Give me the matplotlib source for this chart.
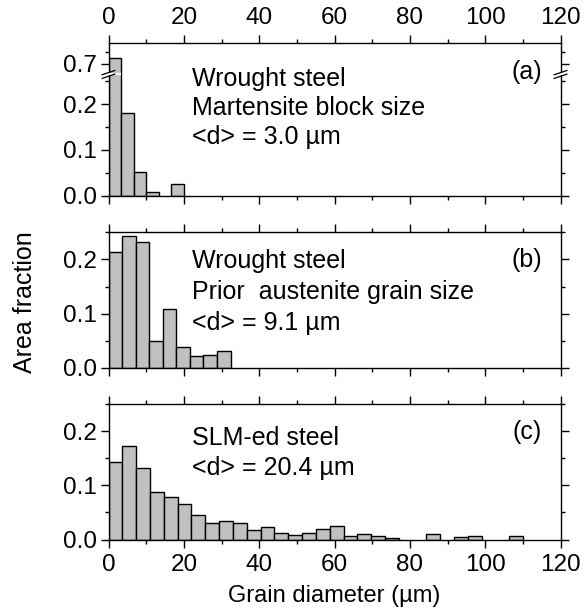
import numpy as np
import matplotlib
matplotlib.use("Agg")
import matplotlib.pyplot as plt
from matplotlib.ticker import FixedLocator, MultipleLocator

plt.rcParams['font.family'] = ['Liberation Sans', 'DejaVu Sans']
FS = 18
FS_TICK = 17.5

# ---------------- data ----------------
bin_a = 10 / 3
frac_a = [0.723, 0.180, 0.052, 0.0087, 0.0, 0.025]
bin_b = 3.6
frac_b = [0.2135, 0.243, 0.2325, 0.049, 0.109, 0.0387, 0.0227, 0.0245, 0.032]
bin_c = 3.67
frac_c = [0.143, 0.172, 0.132, 0.087, 0.078, 0.066, 0.045, 0.031, 0.035, 0.030,
          0.017, 0.023, 0.012, 0.0086, 0.013, 0.019, 0.025, 0.0067, 0.0098, 0.0074,
          0.0037, 0.0, 0.0, 0.011, 0.0, 0.0055, 0.006, 0.0, 0.0, 0.0074]

texts_a = ["Wrought steel", "Martensite block size", "<d> = 3.0 µm"]
texts_b = ["Wrought steel", "Prior  austenite grain size", "<d> = 9.1 µm"]
texts_c = ["SLM-ed steel", "<d> = 20.4 µm"]
x_ticks = [0, 20, 40, 60, 80, 100, 120]
xlabel = "Grain diameter (µm)"
ylabel = "Area fraction"

# ---------------- figure ----------------
W, H = 586, 611
fig = plt.figure(figsize=(W / 100, H / 100), dpi=100)

x0, x1 = 108.5, 560.5
def axrect(top, bottom):
    return [x0 / W, 1 - bottom / H, (x1 - x0) / W, (bottom - top) / H]

ax_a = fig.add_axes(axrect(43.3, 195.7))
ax_b = fig.add_axes(axrect(232.3, 368.0))
ax_c = fig.add_axes(axrect(404.0, 539.6))

# broken scale for panel (a)
B0, Y1, K = 0.265, 0.657, 0.536
def fwd(y):
    y = np.asarray(y, dtype=float)
    return np.where(y <= B0, y, np.where(y >= Y1, B0 + (y - Y1) * K, B0))
def inv(t):
    t = np.asarray(t, dtype=float)
    return np.where(t <= B0, t, Y1 + (t - B0) / K)
ax_a.set_yscale('function', functions=(fwd, inv))

def draw_bars(ax, w, vals):
    vals = np.asarray(vals)
    edges = np.arange(len(vals)) * w
    m = vals > 0
    ax.bar(edges[m], vals[m], width=w, align='edge', color='#c0c0c0',
           edgecolor='black', linewidth=1.0, zorder=2)

draw_bars(ax_a, bin_a, frac_a)
draw_bars(ax_b, bin_b, frac_b)
draw_bars(ax_c, bin_c, frac_c)

for ax in (ax_a, ax_b, ax_c):
    ax.set_xlim(0, 120)
    ax.xaxis.set_major_locator(FixedLocator(x_ticks))
    ax.xaxis.set_minor_locator(MultipleLocator(10))
    ax.tick_params(which='both', direction='out', top=True, right=True,
                   bottom=True, left=True, width=1.0, labelsize=FS_TICK, pad=3.0)
    ax.tick_params(axis='x', which='both', pad=5.0)
    ax.tick_params(which='major', length=5.5)
    ax.tick_params(which='minor', length=3.0)
    for s in ax.spines.values():
        s.set_linewidth(1.0)
    ax.tick_params(axis='x', labelbottom=False, labeltop=False)

ax_a.set_ylim(0, 0.784)
ax_a.yaxis.set_major_locator(FixedLocator([0.0, 0.1, 0.2, 0.7]))
ax_a.yaxis.set_minor_locator(FixedLocator([0.05, 0.15, 0.25, 0.75]))
ax_a.set_yticklabels(["0.0", "0.1", "0.2", "0.7"])
ax_a.tick_params(axis='x', labeltop=True)

for ax in (ax_b, ax_c):
    ax.set_ylim(0, 0.25)
    ax.yaxis.set_major_locator(FixedLocator([0.0, 0.1, 0.2]))
    ax.yaxis.set_minor_locator(FixedLocator([0.05, 0.15, 0.25]))
    ax.set_yticklabels(["0.0", "0.1", "0.2"])
ax_c.tick_params(axis='x', labelbottom=True)
ax_c.set_xlabel(xlabel, fontsize=17, labelpad=6)

# break marks on panel (a)
yb = fwd(B0) / fwd(0.784)
ax_a.plot([-0.02, 0.028], [yb, yb], transform=ax_a.transAxes, color='white',
          lw=1.6, clip_on=False, zorder=5, solid_capstyle='butt')
ax_a.plot([0.985, 1.015], [yb, yb], transform=ax_a.transAxes, color='white',
          lw=1.6, clip_on=False, zorder=5, solid_capstyle='butt')
for xc in (0.0, 1.0):
    for dy in (-0.012, 0.012):
        ax_a.plot([xc - 0.014, xc + 0.014], [yb + dy - 0.014, yb + dy + 0.014],
                  transform=ax_a.transAxes, color='black', lw=0.9,
                  clip_on=False, zorder=6)

# annotations
def put_lines(ax, top_px, bot_px, baselines, lines, label, lab_base):
    hpx = bot_px - top_px
    xl = (192.5 - x0) / (x1 - x0)
    for b, t in zip(baselines, lines):
        ax.text(xl, (bot_px - b) / hpx, t, transform=ax.transAxes,
                fontsize=FS, va='baseline', ha='left')
    ax.text((542 - x0) / (x1 - x0), (bot_px - lab_base) / hpx, label,
            transform=ax.transAxes, fontsize=FS, va='baseline', ha='right')

put_lines(ax_a, 43.3, 195.7, [85.7, 115.0, 144.3], texts_a, "(a)", 79.5)
put_lines(ax_b, 232.3, 368.0, [268.3, 299.0, 330.0], texts_b, "(b)", 267.5)
put_lines(ax_c, 404.0, 539.6, [445.0, 475.0], texts_c, "(c)", 439.0)

fig.text(25 / W, 1 - 302 / H, ylabel, rotation=90, fontsize=FS,
         ha='center', va='center')

fig.savefig("out.png", dpi=100)
